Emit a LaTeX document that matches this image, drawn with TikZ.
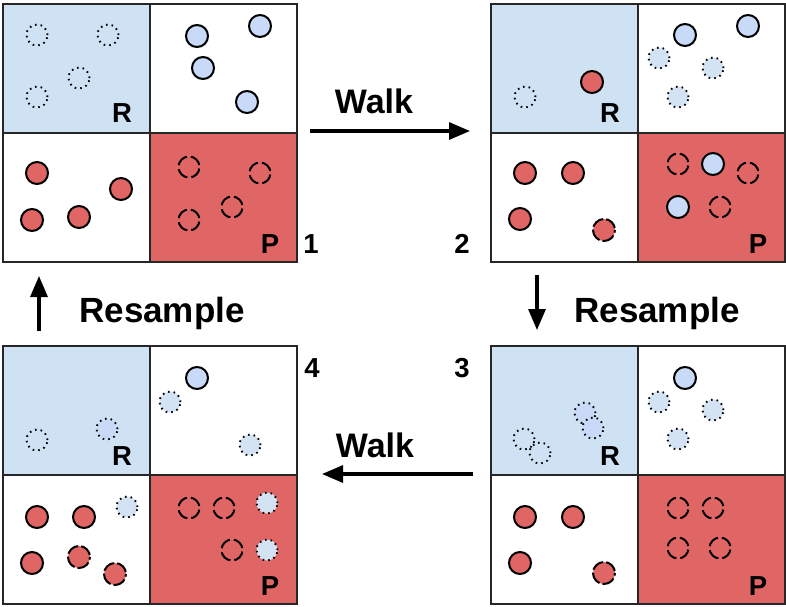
\documentclass[tikz,border=0pt]{standalone}
\usepackage{fontspec}
\setmainfont{Liberation Sans}
\usetikzlibrary{arrows.meta}
\definecolor{qblue}{HTML}{CFE2F3}
\definecolor{qred}{HTML}{E06666}
\definecolor{ballblue}{HTML}{C9DAF8}
\definecolor{ghostblue}{HTML}{D3E3F3}
\begin{document}
\begin{tikzpicture}[x=1pt,y=-1pt,
  quad/.style={rectangle,draw=black!85,line width=2.2pt,minimum width=147pt,minimum height=129pt,inner sep=0pt,anchor=north west},
  bq/.style={quad,fill=qblue},
  rq/.style={quad,fill=qred},
  wq/.style={quad,fill=white},
  ball/.style={circle,inner sep=0pt,minimum size=22pt,line width=2pt},
  blueball/.style={ball,draw=black,fill=ballblue},
  redball/.style={ball,draw=black,fill=qred},
  reddash/.style={ball,draw=black,fill=qred,dash pattern=on 13pt off 3pt,dash phase=-2pt},
  dashempty/.style={ball,minimum size=21pt,draw=black,dash pattern=on 12.5pt off 4pt,dash phase=-2pt},
  dotempty/.style={ball,minimum size=21pt,draw=black,line width=1.9pt,dash pattern=on 1.6pt off 4pt},
  dotblue/.style={dotempty,fill=ghostblue},
  dotball/.style={dotempty,fill=ballblue},
  lbl/.style={font=\fontsize{27.5}{27.5}\selectfont\bfseries,anchor=base,inner sep=0pt},
  big/.style={font=\fontsize{34}{34}\selectfont\bfseries,anchor=base,inner sep=0pt},
  bigger/.style={font=\fontsize{35}{35}\selectfont\bfseries,anchor=base,inner sep=0pt},
  flow/.style={line width=3.2pt,-{Triangle[length=21pt,width=17pt]}}
]
\useasboundingbox (0,0) rectangle (786,606);

% ---------- Panel 1 ----------
\node[bq] (p1tl) at (2,3) {};
\node[wq] (p1tr) at (149,3) {};
\node[wq] (p1bl) at (2,132) {};
\node[rq] (p1br) at (149,132) {};
\node[dotempty] (p1r1) at (37,35) {};
\node[dotempty] (p1r2) at (108,35) {};
\node[dotempty] (p1r3) at (79,78) {};
\node[dotempty] (p1r4) at (37,97) {};
\node[blueball] (p1b1) at (197,36) {};
\node[blueball] (p1b2) at (260,26) {};
\node[blueball] (p1b3) at (203,68) {};
\node[blueball] (p1b4) at (247,102) {};
\node[redball] (p1c1) at (37,173) {};
\node[redball] (p1c2) at (121,189) {};
\node[redball] (p1c3) at (32,220) {};
\node[redball] (p1c4) at (79,217) {};
\node[dashempty] (p1d1) at (189,167) {};
\node[dashempty] (p1d2) at (260,173) {};
\node[dashempty] (p1d3) at (232,207) {};
\node[dashempty] (p1d4) at (189,220) {};
\node[lbl] (p1R) at (122,122) {R};
\node[lbl] (p1P) at (270,253) {P};

% ---------- Panel 2 ----------
\node[bq] (p2tl) at (490,3) {};
\node[wq] (p2tr) at (637,3) {};
\node[wq] (p2bl) at (490,132) {};
\node[rq] (p2br) at (637,132) {};
\node[dotempty] (p2r1) at (525,97) {};
\node[redball] (p2r2) at (592,82) {};
\node[blueball] (p2b1) at (685,35) {};
\node[blueball] (p2b2) at (748,26) {};
\node[dotblue] (p2b3) at (659,58) {};
\node[dotblue] (p2b4) at (713,68) {};
\node[dotblue] (p2b5) at (678,97) {};
\node[redball] (p2c1) at (525,173) {};
\node[redball] (p2c2) at (573,173) {};
\node[redball] (p2c3) at (520,219) {};
\node[reddash] (p2c4) at (604,230) {};
\node[dashempty] (p2d1) at (678,164) {};
\node[blueball] (p2d2) at (713,164) {};
\node[dashempty] (p2d3) at (748,173) {};
\node[blueball] (p2d4) at (678,207) {};
\node[dashempty] (p2d5) at (720,207) {};
\node[lbl] (p2R) at (610,122) {R};
\node[lbl] (p2P) at (758,253) {P};

% ---------- Panel 4 (bottom left) ----------
\node[bq] (p4tl) at (2,345) {};
\node[wq] (p4tr) at (149,345) {};
\node[wq] (p4bl) at (2,474) {};
\node[rq] (p4br) at (149,474) {};
\node[dotempty] (p4r1) at (37,440) {};
\node[dotball] (p4r2) at (107,429) {};
\node[blueball] (p4b1) at (197,378) {};
\node[dotblue] (p4b2) at (170,402) {};
\node[dotblue] (p4b3) at (250,445) {};
\node[redball] (p4c1) at (37,517) {};
\node[redball] (p4c2) at (84,517) {};
\node[dotblue] (p4c3) at (127,507) {};
\node[redball] (p4c4) at (32,563) {};
\node[reddash] (p4c5) at (79,557) {};
\node[reddash] (p4c6) at (115,574) {};
\node[dashempty] (p4d1) at (189,508) {};
\node[dashempty] (p4d2) at (224,508) {};
\node[dotblue] (p4d3) at (267,503) {};
\node[dashempty] (p4d4) at (232,550) {};
\node[dotblue] (p4d5) at (267,550) {};
\node[lbl] (p4R) at (122,465) {R};
\node[lbl] (p4P) at (270,595) {P};

% ---------- Panel 3 (bottom right) ----------
\node[bq] (p3tl) at (490,345) {};
\node[wq] (p3tr) at (637,345) {};
\node[wq] (p3bl) at (490,474) {};
\node[rq] (p3br) at (637,474) {};
\node[dotempty] (p3r1) at (524,439) {};
\node[dotempty] (p3r2) at (540,453) {};
\node[dotball] (p3r3) at (585,413) {};
\node[dotball] (p3r4) at (593,428) {};
\node[blueball] (p3b1) at (685,378) {};
\node[dotblue] (p3b2) at (659,402) {};
\node[dotblue] (p3b3) at (713,410) {};
\node[dotblue] (p3b4) at (678,439) {};
\node[redball] (p3c1) at (525,517) {};
\node[redball] (p3c2) at (573,517) {};
\node[redball] (p3c3) at (520,563) {};
\node[reddash] (p3c4) at (604,573) {};
\node[dashempty] (p3d1) at (678,508) {};
\node[dashempty] (p3d2) at (713,508) {};
\node[dashempty] (p3d3) at (678,548) {};
\node[dashempty] (p3d4) at (720,548) {};
\node[lbl] (p3R) at (610,465) {R};
\node[lbl] (p3P) at (758,595) {P};

% ---------- step numbers ----------
\node[lbl] (n1) at (311,253) {1};
\node[lbl] (n2) at (462,253) {2};
\node[lbl] (n3) at (462,377) {3};
\node[lbl] (n4) at (312,377) {4};

% ---------- transitions ----------
\node[big] (walk1) at (374,113) {Walk};
\node[big] (walk2) at (375,457) {Walk};
\node[bigger] (res1) at (162,322) {Resample};
\node[bigger] (res2) at (657,322) {Resample};

\coordinate (w1s) at (310,131);
\coordinate (w1e) at (470,131);
\coordinate (w2s) at (473,474);
\coordinate (w2e) at (322,474);
\coordinate (r1s) at (39,331);
\coordinate (r1e) at (39,276);
\coordinate (r2s) at (537,275);
\coordinate (r2e) at (537,330);
\draw[flow] (w1s) -- (w1e);
\draw[flow] (w2s) -- (w2e);
\draw[flow] (r1s) -- (r1e);
\draw[flow] (r2s) -- (r2e);
\end{tikzpicture}
\end{document}
